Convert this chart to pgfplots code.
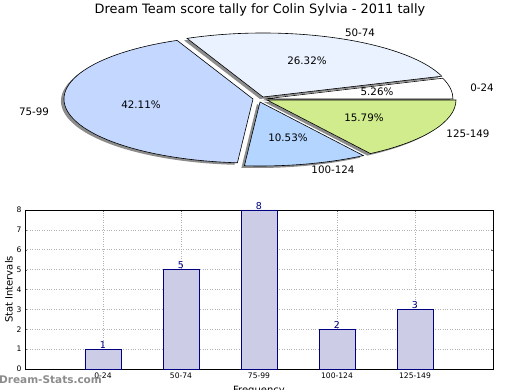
\documentclass[border=0pt]{standalone}
\usepackage{pgfplots}
\usepackage{pgfplotstable}
\pgfplotsset{compat=1.18}
\usetikzlibrary{calc}
\usepackage{fontspec}
\setmainfont{DejaVu Sans}
\definecolor{cA}{HTML}{FFFFFF}
\definecolor{cB}{HTML}{EAF2FF}
\definecolor{cC}{HTML}{C4D8FF}
\definecolor{cD}{HTML}{B4D5FF}
\definecolor{cE}{HTML}{D0EC8C}
\definecolor{barfill}{HTML}{CCCCE6}
\definecolor{baredge}{HTML}{000080}
\pgfplotstableread{
label count
0-24 1
50-74 5
75-99 8
100-124 2
125-149 3
}\scores
\newcommand\slice[5]{%
  \fill[black!45] ($(axis cs:264,99)+(#3pt,#4pt)+(-3pt,-2pt)$) -- ++(#1:189pt and 64pt)
     arc[start angle=#1,end angle=#2,x radius=189pt,y radius=64pt] -- cycle;
  \filldraw[fill=#5,draw=black,line width=0.6pt] ($(axis cs:264,99)+(#3pt,#4pt)$) -- ++(#1:189pt and 64pt)
     arc[start angle=#1,end angle=#2,x radius=189pt,y radius=64pt] -- cycle;
}
\begin{document}
\begin{tikzpicture}
\path[use as bounding box] (0,0) rectangle (520pt,390pt);
\pgfplotstablegetelem{0}{count}\of\scores \pgfmathsetmacro\vA{\pgfplotsretval}
\pgfplotstablegetelem{1}{count}\of\scores \pgfmathsetmacro\vB{\pgfplotsretval}
\pgfplotstablegetelem{2}{count}\of\scores \pgfmathsetmacro\vC{\pgfplotsretval}
\pgfplotstablegetelem{3}{count}\of\scores \pgfmathsetmacro\vD{\pgfplotsretval}
\pgfplotstablegetelem{4}{count}\of\scores \pgfmathsetmacro\vE{\pgfplotsretval}
\pgfmathsetmacro\tot{\vA+\vB+\vC+\vD+\vE}
\pgfmathsetmacro\aA{360*\vA/\tot}
\pgfmathsetmacro\aB{360*(\vA+\vB)/\tot}
\pgfmathsetmacro\aC{360*(\vA+\vB+\vC)/\tot}
\pgfmathsetmacro\aD{360*(\vA+\vB+\vC+\vD)/\tot}
% pie
\begin{axis}[at={(0pt,190pt)},anchor=south west,scale only axis,
  width=520pt,height=200pt,xmin=0,xmax=520,ymin=0,ymax=200,y dir=reverse,
  hide axis,clip=false]
\slice{0}{\aA}{0}{0}{cA}
\slice{\aA}{\aB}{-1}{2}{cB}
\slice{\aB}{\aC}{-11}{0}{cC}
\slice{\aC}{\aD}{-4}{-3}{cD}
\slice{\aD}{360}{3}{-1}{cE}
\node[font=\fontsize{12.9}{15}\selectfont] at (axis cs:260,10) {Dream Team score tally for Colin Sylvia - 2011 tally};
\begin{scope}[every node/.style={font=\fontsize{10.3}{12}\selectfont}]
\node at (axis cs:360,33) {50-74};
\node at (axis cs:482,88) {0-24};
\node at (axis cs:34,112) {75-99};
\node at (axis cs:468,134) {125-149};
\node at (axis cs:333,170) {100-124};
\node at (axis cs:307,61) {26.32\%};
\node at (axis cs:377,92) {5.26\%};
\node at (axis cs:141,105) {42.11\%};
\node at (axis cs:364,118) {15.79\%};
\node at (axis cs:288,138) {10.53\%};
\end{scope}
\end{axis}
% bars
\begin{axis}[at={(25pt,21pt)},anchor=south west,scale only axis,
  width=468pt,height=159pt,
  xmin=-1,xmax=5,ymin=0,ymax=8,
  xtick={0,...,4},xticklabels from table={\scores}{label},
  ytick={0,...,8},
  grid=major,major grid style={dotted,gray!60,line width=0.7pt},
  tick align=inside,tick pos=both,major tick length=2.5pt,
  tick style={black!60},
  axis line style={black,line width=0.7pt},
  ticklabel style={font=\fontsize{7.6}{9}\selectfont},
  /pgf/number format/assume math mode=true,
  xlabel={Frequency},ylabel={Stat Intervals},
  label style={font=\fontsize{10}{12}\selectfont},
  xlabel style={yshift=-1pt},
  ylabel style={yshift=-3pt},
  nodes near coords,
  every node near coord/.append style={font=\fontsize{9.5}{11}\selectfont,text=baredge,yshift=-3pt},
  clip=false]
\addplot[ybar,bar width=36pt,fill=barfill,draw=baredge,line width=0.7pt]
  table[x expr=\coordindex,y=count]{\scores};
\end{axis}
\node[anchor=west,text=black!45,font=\fontsize{10.5}{12}\selectfont\bfseries,inner sep=0pt] at (-1pt,10pt) {Dream-Stats.com};
\end{tikzpicture}
\end{document}
